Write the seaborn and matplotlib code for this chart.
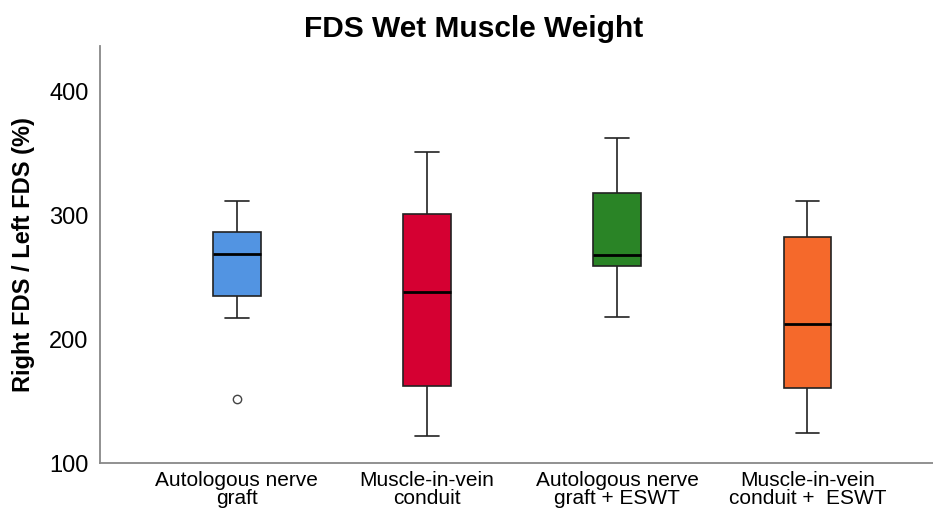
import pandas as pd
import matplotlib.pyplot as plt
import seaborn as sns

# 그룹 이름 (x축 라벨)
groups = ['Autologous nerve\ngraft', 'Muscle-in-vein\nconduit',
          'Autologous nerve\ngraft + ESWT', 'Muscle-in-vein\nconduit +  ESWT']

# 그림에서 읽은 관측값 (Right FDS / Left FDS, %)
vals_graft = [152, 217, 235, 235, 269, 287, 287, 312, 312]
vals_miv = [122, 122, 162, 162, 238, 301, 301, 351, 351]
vals_graft_eswt = [218, 218, 259.5, 259.5, 268, 318.5, 318.5, 363, 363]
vals_miv_eswt = [124, 124, 160.5, 160.5, 212.5, 282.5, 282.5, 312, 312]

colors = ['#5294E2', '#D50032', '#2A8426', '#F5692B']

df = pd.DataFrame({
    'group': [groups[0]] * len(vals_graft) + [groups[1]] * len(vals_miv)
             + [groups[2]] * len(vals_graft_eswt) + [groups[3]] * len(vals_miv_eswt),
    'ratio': vals_graft + vals_miv + vals_graft_eswt + vals_miv_eswt,
})

sns.set_style('white')
plt.rcParams['font.family'] = ['Liberation Sans', 'DejaVu Sans']
plt.rcParams['text.color'] = 'black'
plt.rcParams['xtick.color'] = 'black'
plt.rcParams['ytick.color'] = 'black'
plt.rcParams['axes.labelcolor'] = 'black'

fig = plt.figure(figsize=(9.33, 5.14), dpi=100)
ax = fig.add_axes([0.107, 0.099, 0.893, 0.8115])

sns.boxplot(data=df, x='group', y='ratio', hue='group', order=groups,
            palette=colors, saturation=1, legend=False, width=0.25,
            linecolor='#222222', linewidth=1.2, ax=ax,
            medianprops=dict(color='black', linewidth=2),
            flierprops=dict(marker='o', markerfacecolor='white',
                            markeredgecolor='#444444', markersize=6))

ax.set_ylim(100, 437)
ax.set_xlim(-0.72, 3.66)
ax.set_yticks([100, 200, 300, 400])
ax.tick_params(axis='both', length=0)
ax.tick_params(axis='y', labelsize=17, pad=8)
ax.tick_params(axis='x', labelsize=15, pad=6)
for lab in ax.get_xticklabels():
    lab.set_linespacing(0.92)

for side in ['top', 'right']:
    ax.spines[side].set_visible(False)
for side in ['left', 'bottom']:
    ax.spines[side].set_color('#888888')
    ax.spines[side].set_linewidth(1.3)

ax.set_xlabel('')
ax.set_ylabel('Right FDS / Left FDS (%)', fontsize=17, fontweight='bold', labelpad=10)
fig.suptitle('FDS Wet Muscle Weight', fontsize=21.5, fontweight='bold', x=0.508, y=0.97)

fig.savefig('out.png', dpi=100)
